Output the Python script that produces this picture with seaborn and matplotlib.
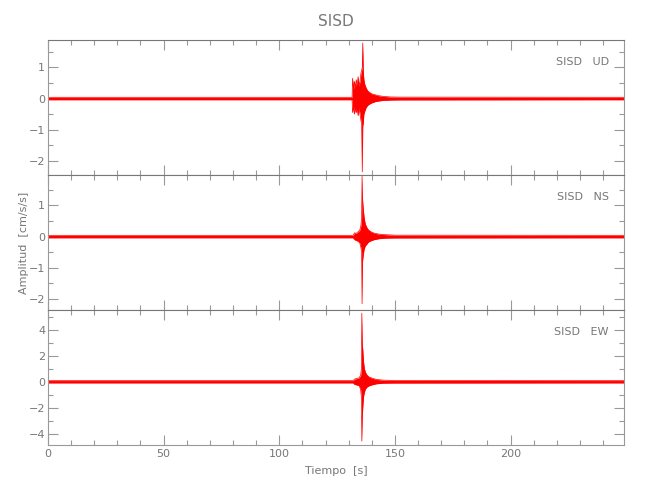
import numpy as np
import pandas as pd
import seaborn as sns
import matplotlib
matplotlib.use('Agg')
import matplotlib.pyplot as plt
from matplotlib.ticker import MultipleLocator

# Envelope of each component (time [s], upper / lower amplitude [cm/s/s])
ud_t = [0, 131.5, 131.7, 132.1, 132.5, 132.9, 133.3, 133.7, 134.1, 134.5, 134.9, 135.3, 135.6, 135.9,
        136.1, 136.3, 136.6, 137.0, 137.5, 138.2, 139, 140, 141.5, 143, 145, 148, 152, 249]
ud_up = [0.04, 0.04, 0.65, 0.3, 0.55, 0.35, 0.6, 0.45, 0.7, 0.4, 0.55, 0.8, 0.9, 1.0,
         1.78, 0.9, 0.6, 0.45, 0.35, 0.25, 0.2, 0.15, 0.12, 0.09, 0.07, 0.05, 0.045, 0.04]
ud_lo = [-0.04, -0.04, -0.45, -0.25, -0.5, -0.3, -0.45, -0.35, -0.55, -0.3, -0.5, -0.7, -0.8, -2.35,
         -0.9, -0.8, -0.5, -0.4, -0.3, -0.22, -0.18, -0.14, -0.1, -0.08, -0.06, -0.05, -0.045, -0.04]

ns_t = [0, 132, 132.5, 133.2, 134, 134.8, 135.3, 135.6, 135.8, 136.0, 136.3, 136.7, 137.2, 137.8,
        138.5, 139.5, 141, 143, 146, 150, 249]
ns_up = [0.04, 0.04, 0.12, 0.1, 0.15, 0.2, 0.35, 0.6, 1.93, 1.2, 0.9, 0.6, 0.4, 0.3,
         0.22, 0.16, 0.11, 0.08, 0.06, 0.045, 0.04]
ns_lo = [-0.04, -0.04, -0.1, -0.12, -0.15, -0.2, -0.35, -0.5, -2.15, -0.8, -0.6, -0.4, -0.3, -0.25,
         -0.18, -0.14, -0.1, -0.07, -0.05, -0.045, -0.04]

ew_t = [0, 132, 132.5, 133.5, 134.5, 135.2, 135.5, 135.7, 135.9, 136.1, 136.4, 136.8, 137.3, 138,
        139, 140.5, 142, 145, 150, 249]
ew_up = [0.09, 0.09, 0.2, 0.25, 0.3, 0.5, 1.0, 5.26, 2.8, 2.5, 1.6, 1.0, 0.7, 0.5,
         0.35, 0.25, 0.18, 0.12, 0.1, 0.09]
ew_lo = [-0.09, -0.09, -0.2, -0.25, -0.3, -0.6, -1.2, -4.55, -2.6, -2.0, -1.2, -0.8, -0.55, -0.4,
         -0.3, -0.22, -0.16, -0.11, -0.1, -0.09]

station = 'SISD'
components = ['UD', 'NS', 'EW']
ylims = [(-2.45, 1.875), (-2.35, 1.97), (-4.85, 5.5)]
ymajor = [1, 1, 2]
yminor = [0.5, 0.5, 1]

sns.set_theme(style='white')
plt.rcParams['font.family'] = ['DejaVu Sans']
grey = '#999999'
txt = '#777777'

fig = plt.figure(figsize=(6.5, 5.0), dpi=100)
boxes = [(0.0738, 0.65, 0.886, 0.27), (0.0738, 0.38, 0.886, 0.27), (0.0738, 0.11, 0.886, 0.27)]
data = [(ud_t, ud_up, ud_lo), (ns_t, ns_up, ns_lo), (ew_t, ew_up, ew_lo)]

axes = []
for i, (box, (t, up, lo)) in enumerate(zip(boxes, data)):
    ax = fig.add_axes(box)
    df = pd.DataFrame({'t': t, 'up': up, 'lo': lo})
    ax.fill_between(df['t'], df['lo'], df['up'], color='red', lw=0)
    sns.lineplot(data=df, x='t', y='up', color='red', lw=0.5, sort=False, ax=ax)
    sns.lineplot(data=df, x='t', y='lo', color='red', lw=0.5, sort=False, ax=ax)
    ax.set_xlim(0, 249)
    ax.set_ylim(*ylims[i])
    ax.xaxis.set_major_locator(MultipleLocator(50))
    ax.xaxis.set_minor_locator(MultipleLocator(10))
    ax.yaxis.set_major_locator(MultipleLocator(ymajor[i]))
    ax.yaxis.set_minor_locator(MultipleLocator(yminor[i]))
    ax.tick_params(which='both', direction='in', top=True, right=True,
                   bottom=True, left=True, color=grey, labelcolor=txt,
                   labelsize=8, width=0.8)
    ax.tick_params(which='major', length=7)
    ax.tick_params(which='minor', length=3.5)
    ax.tick_params(axis='y', pad=2)
    ax.tick_params(axis='x', pad=3)
    for s in ax.spines.values():
        s.set_color(grey)
        s.set_linewidth(0.8)
    ax.spines['top'].set_color('#777777')
    ax.set_xlabel('')
    ax.set_ylabel('')
    if i < 2:
        ax.set_xticklabels([])
    ax.text(0.974, 0.837, f'{station}   {components[i]}', transform=ax.transAxes,
            ha='right', va='center', color=txt, fontsize=8)
    axes.append(ax)

axes[1].set_ylabel('Amplitud  [cm/s/s]', color=txt, fontsize=8)
axes[1].yaxis.set_label_coords(-0.033, 0.5)
axes[2].set_xlabel('Tiempo  [s]', color=txt, fontsize=8, labelpad=5)
axes[0].set_title(station, color=txt, fontsize=11, pad=10)

fig.savefig('out.png', dpi=100, facecolor='white')
